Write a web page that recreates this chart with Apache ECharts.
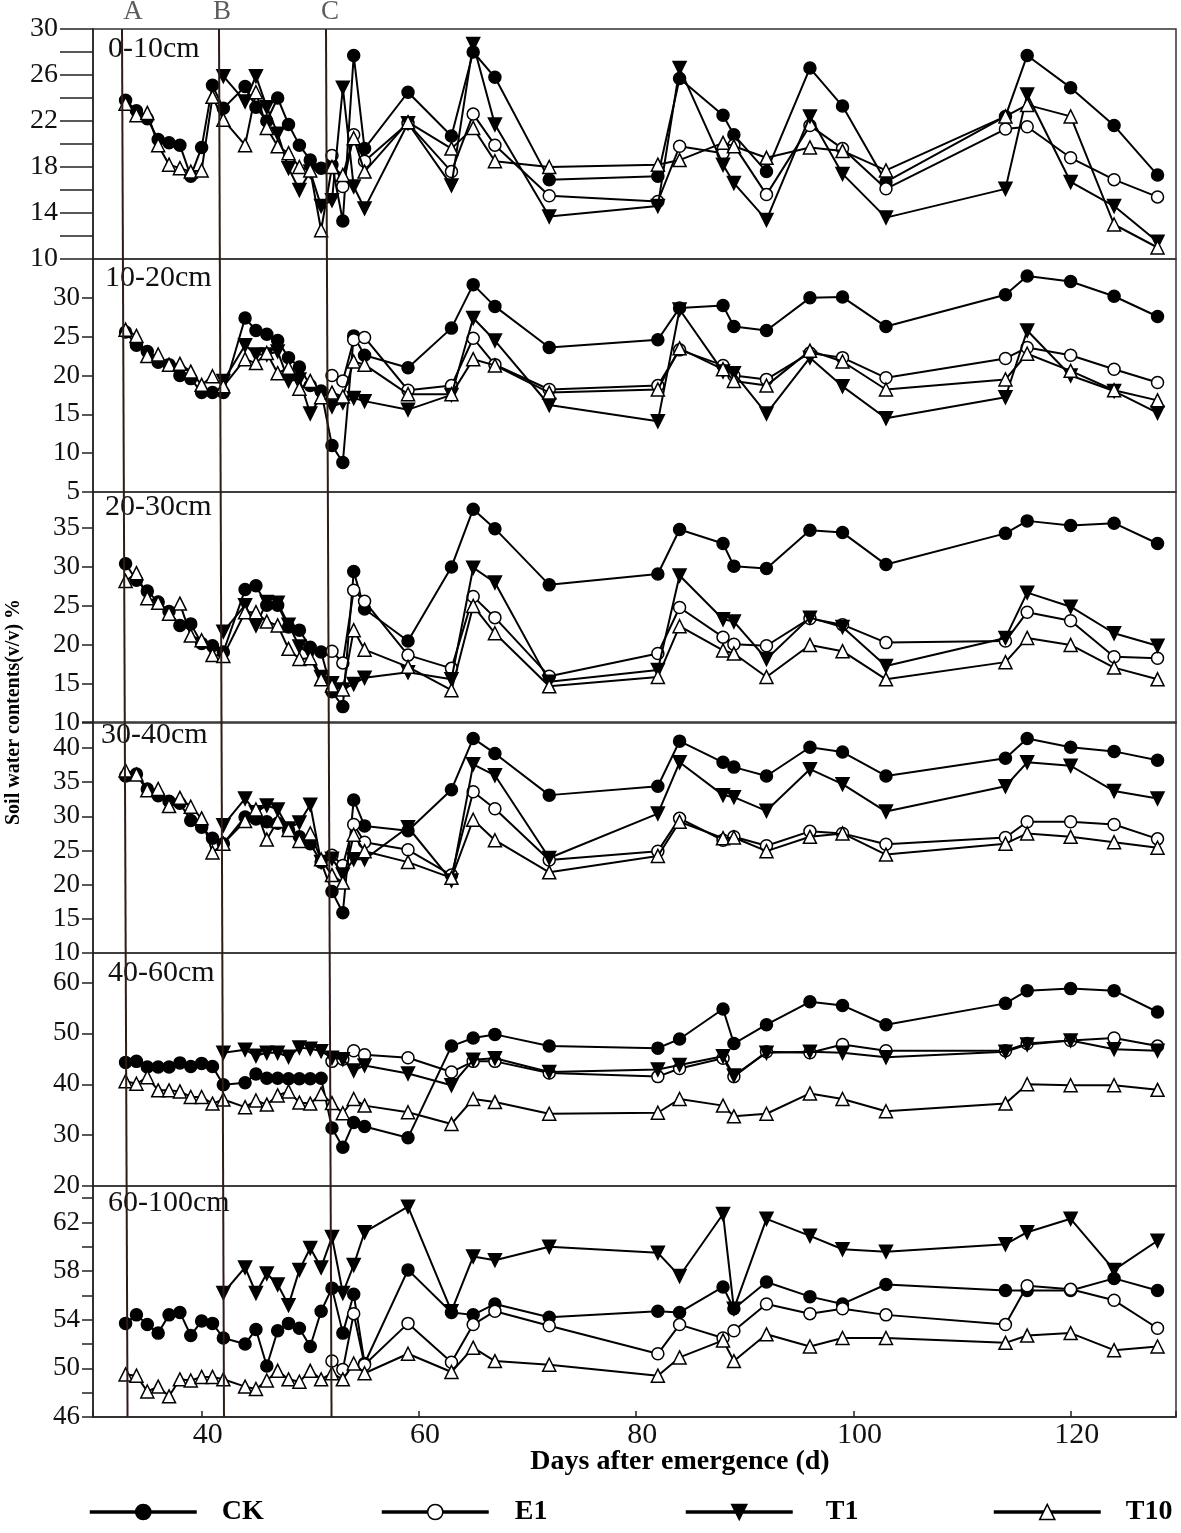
<!DOCTYPE html>
<html><head><meta charset="utf-8">
<script src="https://cdn.jsdelivr.net/npm/echarts@6/dist/echarts.min.js"></script>
<style>html,body{margin:0;padding:0;background:#fff}#c{width:1181px;height:1533px}</style>
</head><body><div id="c"></div>
<script>
// ---- sampling days ----
const days   = [33,34,35,36,37,38,39,40,41,42,44,45,46,47,48,49,50,51,52,53,54,55,59,63,65,67,72,82,84,88,89,92,96,99,103,114,116,120,124,128];
const daysT1 = [42,44,45,46,47,48,49,50,51,52,53,54,55,59,63,65,67,72,82,84,88,89,92,96,99,103,114,116,120,124,128];
const daysE1 = [52,53,54,55,59,63,65,67,72,82,84,88,89,92,96,99,103,114,116,120,124,128];

// ---- 0-10 cm ----
const ck_0_10  = [23.8,22.9,22.2,20.4,20.1,19.9,17.2,19.7,25.1,23.1,25.0,23.2,22.0,24.0,21.7,19.9,18.6,17.9,18.2,13.3,27.7,19.6,24.5,20.7,28.0,25.8,16.9,17.2,25.7,22.5,20.8,17.6,26.6,23.3,16.7,22.4,27.7,24.9,21.6,17.3];
const e1_0_10  = [19.0,16.3,20.8,18.5,21.8,17.6,22.6,19.9,15.5,15.0,19.8,19.2,19.9,15.6,21.6,19.6,16.1,21.3,21.5,18.8,16.9,15.4];
const t1_0_10  = [25.9,23.7,25.9,23.2,20.9,17.9,16.0,17.6,14.6,15.1,24.9,16.3,14.4,21.8,16.4,28.7,21.7,13.7,14.6,26.6,18.2,16.6,13.4,22.4,17.4,13.6,16.1,24.3,16.7,14.6,11.5];
const t10_0_10 = [23.5,22.5,22.7,19.9,18.2,17.9,17.6,17.7,24.1,22.1,19.9,24.5,21.4,19.8,19.2,18.0,17.7,12.5,18.0,17.3,20.5,17.6,21.9,19.6,21.4,18.5,18.0,18.2,18.6,20.1,19.8,18.8,19.7,19.4,17.7,22.4,23.4,22.4,13.0,11.0];
// ---- 10-20 cm ----
const ck_10_20  = [25.6,23.9,23.1,21.7,21.4,20.0,19.6,17.8,17.8,17.8,27.4,25.8,25.3,24.5,22.3,21.1,18.7,18.0,11.0,8.8,25.1,22.6,21.0,26.1,31.7,28.9,23.6,24.6,28.7,29.0,26.3,25.8,30.0,30.1,26.3,30.4,32.8,32.1,30.2,27.6];
const e1_10_20  = [20.0,19.3,24.6,24.9,18.1,18.7,24.8,21.4,18.2,18.7,23.3,21.3,20.0,19.5,22.9,22.3,19.7,22.2,23.6,22.6,20.8,19.1];
const t1_10_20  = [19.3,23.9,22.7,22.7,23.1,19.3,19.5,15.1,17.3,16.0,16.5,17.1,16.7,15.6,17.5,27.4,24.5,16.2,14.1,28.5,20.5,20.3,15.1,22.3,18.6,14.5,17.2,25.8,20.0,18.0,15.2];
const t10_10_20 = [25.9,25.1,22.5,22.7,21.4,21.5,20.5,18.8,19.9,18.6,22.1,21.6,22.9,20.3,21.0,18.3,19.3,17.2,17.8,17.3,21.8,21.4,17.6,17.6,22.1,21.3,17.8,18.2,23.5,20.8,19.3,18.7,23.2,21.8,18.2,19.5,22.8,20.6,18.1,16.8];
// ---- 20-30 cm ----
const ck_20_30  = [30.4,28.3,26.9,25.5,24.3,22.5,22.7,20.2,19.9,19.1,27.1,27.6,25.1,25.1,22.3,21.9,19.7,19.1,14.0,12.1,29.4,24.6,20.5,30.0,37.4,34.9,27.7,29.1,34.8,33.0,30.1,29.8,34.7,34.4,30.3,34.3,35.9,35.3,35.6,33.0];
const e1_20_30  = [19.2,17.7,27.0,25.6,18.7,17.0,26.2,23.5,16.0,18.9,24.8,21.0,20.1,19.9,23.4,22.6,20.3,20.5,24.2,23.1,18.5,18.3];
const t1_20_30  = [21.7,25.1,22.5,25.5,25.4,22.6,19.8,18.8,15.9,15.1,14.3,15.0,15.8,16.5,15.6,29.9,28.0,15.3,16.8,28.9,23.3,23.0,18.2,23.5,22.3,17.3,20.9,26.7,24.9,21.5,19.9];
const t10_20_30 = [28.2,29.2,26.0,25.4,24.0,25.3,21.2,20.6,18.7,18.6,24.2,24.2,23.0,22.5,19.5,18.2,18.3,15.6,14.8,14.3,21.9,19.4,17.2,14.2,25.0,21.5,14.7,15.9,22.4,19.3,18.9,15.9,20.0,19.2,15.6,17.8,20.9,20.0,17.1,15.6];
// ---- 30-40 cm ----
const ck_30_40  = [35.9,36.2,34.0,33.0,32.2,31.9,29.4,28.4,26.8,26.0,29.9,29.6,29.2,29.0,28.0,27.0,26.0,23.3,19.0,15.9,32.4,28.6,27.9,33.9,41.4,39.2,33.1,34.4,41.0,37.9,37.2,35.9,40.1,39.4,35.9,38.5,41.4,40.1,39.5,38.2];
const e1_30_40  = [24.3,22.8,28.8,26.2,25.1,21.4,33.6,31.1,23.6,24.9,29.7,26.5,27.0,25.7,27.8,27.5,25.9,26.9,29.2,29.2,28.8,26.7];
const t1_30_40  = [28.7,32.6,30.6,31.6,31.0,28.2,29.1,31.7,23.3,23.8,21.5,23.7,23.7,28.4,20.6,37.6,36.0,23.9,30.4,37.9,33.1,32.8,30.8,36.9,34.7,30.7,34.4,37.9,37.4,33.7,32.6];
const t10_30_40 = [36.7,36.1,33.8,34.0,31.5,32.7,31.4,29.7,24.7,26.0,29.3,31.0,26.6,29.3,28.0,26.4,27.5,23.7,21.4,20.3,27.3,24.9,23.3,21.0,29.5,26.5,21.8,24.2,29.2,26.8,26.9,24.9,27.0,27.5,24.4,26.0,27.5,27.0,26.2,25.4];
// ---- 40-60 cm ----
const ck_40_60  = [44.3,44.5,43.4,43.4,43.4,44.2,43.5,44.1,43.5,39.9,40.3,42.0,41.2,41.2,41.1,41.1,41.1,41.2,31.4,27.6,32.5,31.7,29.5,47.5,49.1,49.8,47.5,47.1,48.9,54.8,48.0,51.7,56.2,55.5,51.7,55.9,58.4,58.8,58.4,54.2];
const e1_40_60  = [44.5,44.9,46.6,45.8,45.2,42.4,44.5,44.5,42.2,41.5,43.1,45.1,41.5,46.4,46.2,47.8,46.6,46.6,48.0,48.6,49.1,47.5];
const t1_40_60  = [46.2,46.8,45.6,46.2,46.2,45.4,47.2,47.0,46.5,45.2,44.9,42.7,43.7,42.1,39.8,44.8,45.1,42.4,42.9,43.8,45.5,41.7,46.2,46.4,46.2,45.3,46.4,47.8,48.6,46.9,46.6];
const t10_40_60 = [40.6,40.1,41.4,38.8,38.8,38.6,37.5,37.5,36.2,37.0,35.5,36.8,36.0,37.8,38.6,36.4,36.2,38.1,36.3,34.3,37.1,35.8,34.5,32.2,37.1,36.5,34.2,34.4,37.1,35.8,33.7,34.2,38.2,37.1,34.7,36.2,40.0,39.8,39.8,38.9];
// ---- 60-100 cm ----
const ck_60_100  = [53.7,54.4,53.6,52.9,54.4,54.6,52.7,53.9,53.7,52.5,52.0,53.2,50.2,53.1,53.7,53.3,51.8,54.7,56.6,52.9,56.1,50.4,58.1,54.6,54.4,55.3,54.2,54.7,54.6,56.7,54.9,57.1,55.9,55.3,56.9,56.4,56.4,56.4,57.4,56.4];
const e1_60_100  = [50.6,49.9,54.5,50.3,53.7,50.5,53.6,54.7,53.5,51.2,53.6,52.5,53.1,55.3,54.5,54.9,54.4,53.6,56.8,56.5,55.6,53.3];
const t1_60_100  = [56.2,58.3,56.2,57.8,56.9,55.2,58.1,59.9,58.3,60.8,56.2,58.5,61.2,63.3,54.7,59.2,58.9,60.0,59.5,57.6,62.7,54.9,62.3,60.9,59.8,59.6,60.2,61.2,62.3,58.1,60.5];
const t10_60_100 = [49.5,49.4,48.1,48.5,47.7,49.1,49.0,49.3,49.3,49.1,48.5,48.3,49.0,49.8,49.1,48.9,49.8,49.1,49.6,49.1,50.4,49.6,51.2,49.7,51.7,50.6,50.3,49.4,50.9,52.3,50.6,52.8,51.8,52.5,52.5,52.1,52.7,52.9,51.5,51.8];

// ---- labels / ticks ----
const treatments = ['CK','E1','T1','T10'];
const depthLabels = ['0-10cm','10-20cm','20-30cm','30-40cm','40-60cm','60-100cm'];
const yTickLabels = [[10,14,18,22,26,30],[5,10,15,20,25,30],[10,15,20,25,30,35],[10,15,20,25,30,35,40],[20,30,40,50,60],[46,50,54,58,62]];
const xTickLabels = [40,60,80,100,120];
const refNames = ['A','B','C'];
const refTopDay = [32.67,41.6,51.45];
const refBottomDay = [33.18,42.06,51.96];
const refLabelDay = [33.68,41.88,51.82];

const panelValues = [
  [ck_0_10, e1_0_10, t1_0_10, t10_0_10],
  [ck_10_20, e1_10_20, t1_10_20, t10_10_20],
  [ck_20_30, e1_20_30, t1_20_30, t10_20_30],
  [ck_30_40, e1_30_40, t1_30_40, t10_30_40],
  [ck_40_60, e1_40_60, t1_40_60, t10_40_60],
  [ck_60_100, e1_60_100, t1_60_100, t10_60_100]
];
const dayFor = {CK: days, E1: daysE1, T1: daysT1, T10: days};

// ---- layout & styles ----
const FONT = '"Liberation Serif","Times New Roman",serif';
const layout = [
  {top:29,  height:230, min:10, max:30,   interval:2,  tick:33, margin:35, fs:28, lab:[108,49]},
  {top:259, height:233, min:5,  max:35,   interval:5,  tick:11, margin:13, fs:27, lab:[105,278]},
  {top:492, height:231, min:10, max:39.6, interval:5,  tick:11, margin:13, fs:27, lab:[105,507]},
  {top:722, height:231, min:10, max:43.8, interval:5,  tick:11, margin:13, fs:27, lab:[101,735]},
  {top:953, height:233, min:20, max:65.8, interval:10, tick:11, margin:13, fs:27, lab:[108,973]},
  {top:1186,height:231, min:46, max:65,   interval:2,  tick:11, margin:13, fs:27, lab:[108,1203]}
];
const XMIN = 30, XMAX = 129.7;
const styles = {
  CK:  {symbol:'circle', size:12, fill:'#000'},
  E1:  {symbol:'circle', size:12, fill:'#fff'},
  T1:  {symbol:'path://M0,0L10,0L5,9Z', size:13, fill:'#000'},
  T10: {symbol:'triangle', size:13, fill:'#fff'}
};

const grid = [], xAxis = [], yAxis = [], series = [], graphic = [];
layout.forEach((L, i) => {
  grid.push({left:93, right:5, top:L.top, height:L.height, show:true, borderColor:'#333', borderWidth:1.5, backgroundColor:'transparent'});
  const last = i === layout.length - 1;
  xAxis.push({
    type:'value', gridIndex:i, min:XMIN, max:XMAX, show:last,
    axisLine:{show:true, lineStyle:{color:'#222', width:1.5}},
    axisTick:{show:true, inside:true, length:6, lineStyle:{color:'#222', width:1.5}},
    splitLine:{show:false},
    axisLabel:{show:last, margin:3, fontFamily:FONT, fontSize:30, color:'#111', padding:[0,0,0,12],
      formatter: v => xTickLabels.indexOf(Math.round(v)) >= 0 && Math.abs(v - Math.round(v)) < 1e-6 ? String(Math.round(v)) : ''}
  });
  const labs = yTickLabels[i];
  yAxis.push({
    type:'value', gridIndex:i, min:L.min, max:L.max, interval:L.interval,
    axisLine:{show:true, lineStyle:{color:'#222', width:1.5}},
    axisTick:{show:true, inside:false, length:L.tick, lineStyle:{color:'#222', width:1.5}},
    splitLine:{show:false},
    axisLabel:{margin:L.margin, fontFamily:FONT, fontSize:L.fs, color:'#111',
      formatter: v => { const r = Math.round(v*100)/100; return labs.indexOf(r) >= 0 ? String(r) : ''; }}
  });
  treatments.forEach((t, k) => {
    const s = styles[t];
    const vals = panelValues[i][k];
    series.push({
      type:'line', name:t, xAxisIndex:i, yAxisIndex:i,
      data: dayFor[t].map((d, j) => [d, vals[j]]),
      symbol:s.symbol, symbolSize:s.size, showSymbol:true,
      itemStyle:{color:s.fill, borderColor:'#000', borderWidth:1.5},
      lineStyle:{color:'#000', width:2},
      emphasis:{disabled:true}, z:2 + k*0.1
    });
  });
  graphic.push({type:'text', x:L.lab[0], y:L.lab[1],
    style:{text:depthLabels[i], font:'30px ' + FONT, fill:'#111', textAlign:'left', textVerticalAlign:'middle', align:'left', verticalAlign:'middle'}});
});

// overlay grid for reference lines A, B, C
const OV = layout.length;
grid.push({left:93, right:5, top:29, bottom:116, show:false});
xAxis.push({type:'value', gridIndex:OV, min:XMIN, max:XMAX, show:false});
yAxis.push({type:'value', gridIndex:OV, min:0, max:1, show:false});
refNames.forEach((n, r) => {
  series.push({
    type:'line', name:'ref' + n, xAxisIndex:OV, yAxisIndex:OV, silent:true,
    data:[[refTopDay[r], 1], [refBottomDay[r], 0]], symbol:'none',
    lineStyle:{color:'#2e1c18', width:2}, z:5
  });
});
series.push({
  type:'scatter', name:'refLabels', xAxisIndex:OV, yAxisIndex:OV, silent:true, clip:false,
  data: refNames.map((n, r) => ({name:n, value:[refLabelDay[r], 1]})),
  symbolSize:2, itemStyle:{color:'rgba(0,0,0,0)'}, z:6,
  label:{show:true, position:'top', distance:3, formatter:'{b}', fontFamily:FONT, fontSize:27, color:'#333'}
});

graphic.push({type:'text', x:14, y:712, rotation:Math.PI/2,
  style:{text:'Soil water contents(v/v) %', font:'bold 20px ' + FONT, fill:'#000', textAlign:'center', textVerticalAlign:'middle', align:'center', verticalAlign:'middle'}});
graphic.push({type:'text', x:680, y:1462,
  style:{text:'Days after emergence (d)', font:'bold 28px ' + FONT, fill:'#000', textAlign:'center', textVerticalAlign:'middle', align:'center', verticalAlign:'middle'}});

const legendLefts = [88, 380, 684, 992];
const legendGaps = [20, 21, 28, 20];
const legend = treatments.map((t, k) => ({
  data:[t], left:legendLefts[k], top:1498, padding:0, orient:'horizontal',
  itemWidth:107, itemHeight:19, selectedMode:false,
  lineStyle:{width:3.5, color:'#000'},
  itemStyle:{borderWidth:1.5, borderColor:'#000'},
  textStyle:{fontFamily:FONT, fontWeight:'bold', fontSize:28, color:'#000', padding:[0,0,0,legendGaps[k]]}
}));

const chart = echarts.init(document.getElementById('c'), null, {renderer:'canvas'});
chart.setOption({
  backgroundColor:'#fff', animation:false,
  grid, xAxis, yAxis, series, legend, graphic
});
</script></body></html>
